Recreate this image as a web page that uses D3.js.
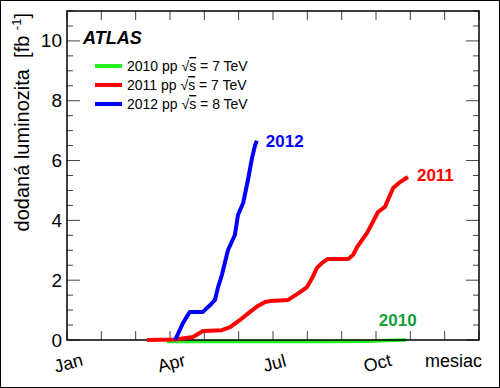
<!DOCTYPE html>
<html>
<head>
<meta charset="utf-8">
<script src="https://cdn.jsdelivr.net/npm/d3@7"></script>
<style>
  body { margin: 0; background: #fff; }
  text { font-family: "Liberation Sans", Arial, sans-serif; }
</style>
</head>
<body>
<svg id="chart" width="500" height="388"></svg>
<script>
// month index (0 = 1 Jan, 12 = 31 Dec), delivered luminosity in fb^-1
var lumi2010 = [[2.91,0],[4.5,0.0005],[6,0.002],[7.5,0.004],[8.8,0.01],[9.3,0.03],[9.87,0.048]];
var lumi2011 = [[2.33,0],[3.15,0.02],[3.67,0.1],[3.96,0.3],[4.51,0.33],[4.75,0.43],[5.04,0.67],
                [5.33,0.94],[5.56,1.14],[5.77,1.27],[5.91,1.3],[6.44,1.34],[6.79,1.6],[6.99,1.77],
                [7.14,2.07],[7.28,2.41],[7.43,2.58],[7.6,2.71],[8.19,2.71],[8.33,2.84],[8.45,3.11],
                [8.74,3.58],[9.06,4.28],[9.26,4.45],[9.5,5.08],[9.7,5.28],[9.93,5.45]];
var lumi2012 = [[3.15,0],[3.38,0.57],[3.47,0.74],[3.58,0.94],[3.96,0.94],[4.17,1.17],[4.31,1.34],
                [4.4,1.77],[4.51,2.17],[4.69,3.01],[4.89,3.51],[4.98,4.18],[5.13,4.58],[5.27,5.35],
                [5.39,6.09],[5.48,6.52],[5.53,6.66]];
var monthLabels = ["Jan","","","Apr","","","Jul","","","Oct","","",""];
var yTicks = [0,2,4,6,8,10];
var legendNames = ["2010 pp ", "2011 pp ", "2012 pp "];
var legendEnergy = [" = 7 TeV", " = 7 TeV", " = 8 TeV"];

var svg = d3.select("#chart");
var plotL = 67, plotR = 479, plotT = 11, plotB = 340;

var x = d3.scaleLinear().domain([0,12]).range([plotL, plotR]);
var y = d3.scaleLinear().domain([0,11]).range([plotB, plotT]);

// outer border
svg.append("rect")
    .attr("x", 0.5).attr("y", 0.5)
    .attr("width", 499).attr("height", 387)
    .style("fill", "none").style("stroke", "#000").style("stroke-width", 1);

var line = d3.line()
    .x(function(d) { return x(d[0]); })
    .y(function(d) { return y(d[1]); });

// 2010 under the frame
svg.append("path")
    .datum(lumi2010)
    .attr("d", line)
    .style("fill", "none").style("stroke", "#22ee22")
    .style("stroke-width", 3.5).attr("transform", "translate(0,1.5)");

// ticks
var yMinor = d3.range(0, 11.01, 0.5);
svg.selectAll("yTicksL")
    .data(yMinor)
    .enter()
    .append("line")
    .attr("x1", plotL)
    .attr("x2", function(d) { return d % 2 === 0 ? plotL + 13 : plotL + 6; })
    .attr("y1", function(d) { return y(d); })
    .attr("y2", function(d) { return y(d); })
    .style("stroke", "#444").style("stroke-width", 1);
svg.selectAll("yTicksR")
    .data(yMinor)
    .enter()
    .append("line")
    .attr("x1", plotR)
    .attr("x2", function(d) { return d % 2 === 0 ? plotR - 13 : plotR - 6; })
    .attr("y1", function(d) { return y(d); })
    .attr("y2", function(d) { return y(d); })
    .style("stroke", "#444").style("stroke-width", 1);
svg.selectAll("xTicksB")
    .data(d3.range(0, 13))
    .enter()
    .append("line")
    .attr("x1", function(d) { return x(d); })
    .attr("x2", function(d) { return x(d); })
    .attr("y1", plotB)
    .attr("y2", plotB - 9)
    .style("stroke", "#444").style("stroke-width", 1);
svg.selectAll("xTicksT")
    .data(d3.range(0, 13))
    .enter()
    .append("line")
    .attr("x1", function(d) { return x(d); })
    .attr("x2", function(d) { return x(d); })
    .attr("y1", plotT)
    .attr("y2", plotT + 9)
    .style("stroke", "#444").style("stroke-width", 1);

svg.append("rect")
    .attr("x", plotL).attr("y", plotT)
    .attr("width", plotR - plotL).attr("height", plotB - plotT)
    .style("fill", "none").style("stroke", "#000").style("stroke-width", 1.5);

// tick labels
svg.selectAll("yLabels")
    .data(yTicks)
    .enter()
    .append("text")
    .attr("x", plotL - 5)
    .attr("y", function(d) { return y(d) + 6.5; })
    .text(function(d) { return d; })
    .style("text-anchor", "end")
    .style("font-size", "19px");

svg.selectAll("xLabels")
    .data(monthLabels)
    .enter()
    .filter(function(d) { return d !== ""; })
    .append("text")
    .attr("transform", function(d) {
      var i = monthLabels.indexOf(d);
      return "translate(" + (x(i) + 3) + ",369) rotate(-15)";
    })
    .text(function(d) { return d; })
    .style("text-anchor", "middle")
    .style("font-size", "18px");

svg.append("text")
    .attr("x", 482).attr("y", 367)
    .text("mesiac")
    .style("text-anchor", "end")
    .style("font-size", "18px");

var yLab = svg.append("text")
    .attr("transform", "translate(29,13) rotate(-90)")
    .style("text-anchor", "end")
    .style("font-size", "20px");
yLab.append("tspan").text("dodaná luminozita\u00a0\u00a0[fb\u00a0");
yLab.append("tspan").text("-1").style("font-size", "13px").attr("dy", -8);
yLab.append("tspan").text("]").attr("dy", 8);

// data lines
var colors = ["#22ee22", "#ff0000", "#0000ff"];
[lumi2011, lumi2012].forEach(function(s, i) {
  svg.append("path")
      .datum(s)
      .attr("d", line)
      .style("fill", "none")
      .style("stroke", colors[i + 1])
      .style("stroke-width", 4)
      .style("stroke-linejoin", "round");
});

// end labels
var endLabels = [
  {t: "2010", c: "#11a03a", d: lumi2010, dx: -27, dy: -13},
  {t: "2011", c: "#ff0000", d: lumi2011, dx: 9, dy: 4},
  {t: "2012", c: "#0000ff", d: lumi2012, dx: 9, dy: 6}
];
svg.selectAll("endLabels")
    .data(endLabels)
    .enter()
    .append("text")
    .attr("x", function(d) { return x(d.d[d.d.length - 1][0]) + d.dx; })
    .attr("y", function(d) { return y(d.d[d.d.length - 1][1]) + d.dy; })
    .text(function(d) { return d.t; })
    .style("fill", function(d) { return d.c; })
    .style("font-weight", "bold")
    .style("font-size", "17px");

// ATLAS + legend
svg.append("text")
    .attr("x", 83).attr("y", 44)
    .text("ATLAS")
    .style("font-weight", "bold")
    .style("font-style", "italic")
    .style("font-size", "18px");

svg.selectAll("legLines")
    .data(colors)
    .enter()
    .append("line")
    .attr("x1", 95).attr("x2", 122)
    .attr("y1", function(d, i) { return 66 + i * 19; })
    .attr("y2", function(d, i) { return 66 + i * 19; })
    .style("stroke", function(d) { return d; })
    .style("stroke-width", 4);

var leg = svg.selectAll("legText")
    .data(legendNames)
    .enter()
    .append("text")
    .attr("x", 127)
    .attr("y", function(d, i) { return 71 + i * 19; })
    .style("font-size", "14px");
leg.append("tspan").text(function(d) { return d; });
leg.append("tspan").text("√");
leg.append("tspan").text("s").style("text-decoration", "overline");
leg.append("tspan").text(function(d, i) { return legendEnergy[i]; });
</script>
</body>
</html>
